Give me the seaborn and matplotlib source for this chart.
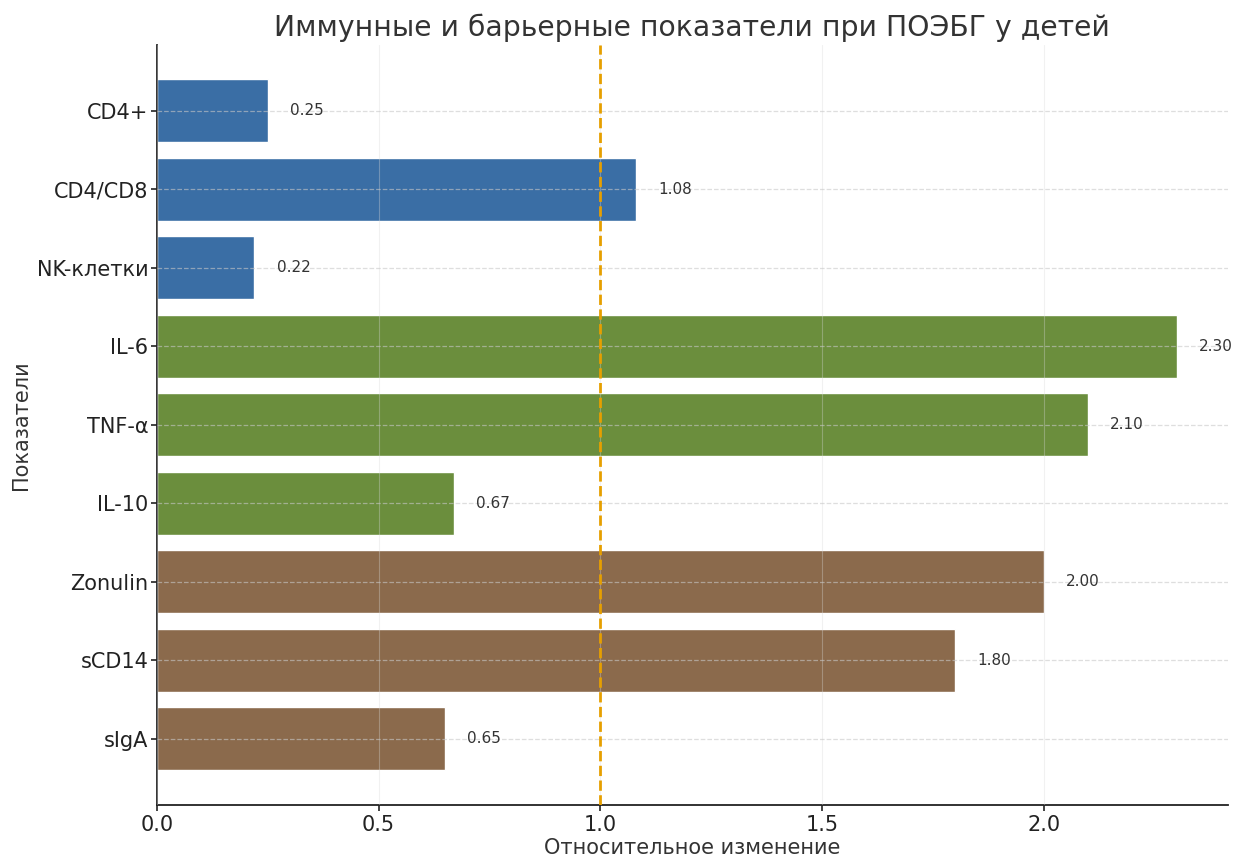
import matplotlib
matplotlib.use("Agg")
import matplotlib.pyplot as plt
import seaborn as sns
import pandas as pd

indicators = ["CD4+", "CD4/CD8", "NK-клетки", "IL-6", "TNF-α", "IL-10", "Zonulin", "sCD14", "sIgA"]
values = [0.25, 1.08, 0.22, 2.30, 2.10, 0.67, 2.00, 1.80, 0.65]
groups = ["Иммунитет"] * 3 + ["Цитокины"] * 3 + ["Барьер"] * 3
group_colors = {"Иммунитет": "#3A6EA5", "Цитокины": "#6B8E3D", "Барьер": "#8B6A4C"}
reference_level = 1.0

df = pd.DataFrame({"indicator": indicators, "value": values, "group": groups})

sns.set_style("white")
plt.rcParams["font.family"] = ["DejaVu Sans"]

fig, ax = plt.subplots(figsize=(12.35, 8.58), dpi=100)
fig.subplots_adjust(left=0.127, right=0.994, top=0.948, bottom=0.062)

sns.barplot(data=df, y="indicator", x="value", hue="group", palette=group_colors,
            orient="h", dodge=False, width=0.8, legend=False, ax=ax, saturation=1)

ax.axvline(reference_level, color="#E69F00", linestyle="--", linewidth=2, zorder=3)

for i, v in enumerate(values):
    ax.text(v + 0.05, i, f"{v:.2f}", va="center", ha="left", fontsize=11, color="#333333", zorder=4)

ax.set_xlim(0, max(values) * 1.05)
ax.set_ylim(len(values) - 1 + 0.84, -0.84)

ax.set_title("Иммунные и барьерные показатели при ПОЭБГ у детей", fontsize=20.3, color="#333333")
ax.set_xlabel("Относительное изменение", fontsize=15, color="#333333", labelpad=2)
ax.set_ylabel("Показатели", fontsize=15, color="#333333")
ax.tick_params(axis="both", labelsize=15, length=4, width=1.2, colors="#222222", left=True, bottom=True)
ax.tick_params(axis="y", pad=2)

ax.set_axisbelow(False)
ax.grid(axis="y", linestyle="--", color="#c8c8c8", linewidth=0.9, alpha=0.6)
ax.grid(axis="x", linestyle="-", color="#d8d8d8", linewidth=0.8, alpha=0.35)
for side in ["top", "right"]:
    ax.spines[side].set_visible(False)
for side in ["left", "bottom"]:
    ax.spines[side].set_color("#222222")
    ax.spines[side].set_linewidth(1.3)

fig.savefig("out.png", dpi=100)
